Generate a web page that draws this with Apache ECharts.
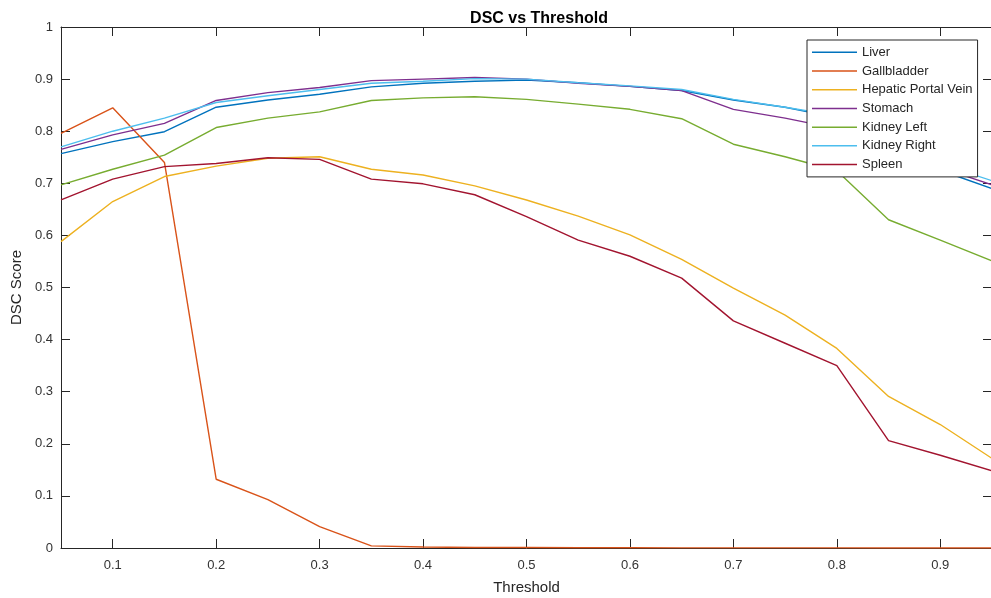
<!DOCTYPE html>
<html>
<head>
<meta charset="utf-8">
<script src="https://cdn.jsdelivr.net/npm/echarts@6/dist/echarts.min.js"></script>
<style>
html,body{margin:0;padding:0;background:#fff;}
#chart{width:991px;height:598px;}
</style>
</head>
<body>
<div id="chart"></div>
<script>
const thresholds = [0.05,0.1,0.15,0.2,0.25,0.3,0.35,0.4,0.45,0.5,0.55,0.6,0.65,0.7,0.75,0.8,0.85,0.9,0.95];
const xTicks = [0.1,0.2,0.3,0.4,0.5,0.6,0.7,0.8,0.9];
const liver = [0.757,0.780,0.799,0.846,0.860,0.871,0.885,0.892,0.896,0.898,0.893,0.886,0.878,0.860,0.846,0.826,0.790,0.725,0.690];
const gallbladder = [0.796,0.845,0.740,0.132,0.093,0.041,0.004,0.002,0.001,0.001,0.0005,0.0005,0.0003,0.0003,0.0002,0.0002,0.0001,0.0001,0.0001];
const hepaticPortalVein = [0.588,0.665,0.713,0.733,0.748,0.751,0.727,0.716,0.695,0.668,0.637,0.601,0.554,0.499,0.447,0.383,0.291,0.237,0.172];
const stomach = [0.765,0.793,0.815,0.859,0.874,0.884,0.897,0.900,0.903,0.900,0.892,0.886,0.878,0.842,0.825,0.805,0.775,0.730,0.697];
const kidneyLeft = [0.697,0.727,0.754,0.807,0.825,0.837,0.859,0.864,0.866,0.861,0.852,0.842,0.824,0.775,0.751,0.724,0.630,0.591,0.551];
const kidneyRight = [0.770,0.800,0.825,0.855,0.868,0.880,0.892,0.896,0.901,0.900,0.893,0.887,0.880,0.861,0.846,0.830,0.795,0.737,0.705];
const spleen = [0.668,0.708,0.732,0.738,0.749,0.746,0.708,0.699,0.678,0.636,0.591,0.560,0.518,0.436,0.393,0.350,0.206,0.178,0.148];

const seriesDefs = [
  ['Liver', liver, '#0072BD'],
  ['Gallbladder', gallbladder, '#D95319'],
  ['Hepatic Portal Vein', hepaticPortalVein, '#EDB120'],
  ['Stomach', stomach, '#7E2F8E'],
  ['Kidney Left', kidneyLeft, '#77AC30'],
  ['Kidney Right', kidneyRight, '#4DBEEE'],
  ['Spleen', spleen, '#A2142F']
];

const font = "'Liberation Sans', Arial, Helvetica, sans-serif";
const axisColor = '#262626';

const chart = echarts.init(document.getElementById('chart'), null, {renderer:'canvas'});

function xAxisDef(pos, showLabel){
  return {
    type:'value', position:pos, min:0.05, max:0.95,
    name: showLabel ? 'Threshold' : '',
    nameLocation:'middle', nameGap:32,
    nameTextStyle:{fontFamily:font, fontSize:15, color:axisColor},
    axisLine:{show:true, onZero:false, lineStyle:{color:axisColor, width:1}},
    axisTick:{show:true, inside:true, length:9, customValues:xTicks, lineStyle:{color:axisColor}},
    axisLabel:{show:showLabel, customValues:xTicks, margin:11, fontFamily:font, fontSize:13, color:'#333',
      formatter:v=>String(v)},
    splitLine:{show:false}
  };
}
function yAxisDef(pos, showLabel){
  return {
    type:'value', position:pos, min:0, max:1, interval:0.1,
    name: showLabel ? 'DSC Score' : '',
    nameLocation:'middle', nameGap:36,
    nameTextStyle:{fontFamily:font, fontSize:15, color:axisColor},
    axisLine:{show:true, onZero:false, lineStyle:{color:axisColor, width:1}},
    axisTick:{show:true, inside:true, length:9, lineStyle:{color:axisColor}},
    axisLabel:{show:showLabel, margin:8, fontFamily:font, fontSize:13, color:'#333',
      formatter:v=>String(Math.round(v*10)/10)},
    splitLine:{show:false}
  };
}

chart.setOption({
  animation:false,
  backgroundColor:'#fff',
  title:{
    text:'DSC vs Threshold', left:534, top:6, textAlign:'center',
    textStyle:{fontFamily:font, fontSize:16, fontWeight:'bold', color:'#000'}
  },
  grid:{left:61, top:27, width:931, height:521, containLabel:false, outerBoundsMode:'none'},
  legend:{
    orient:'vertical', left:807, top:40,
    padding:[3,5,3,5], itemGap:0, itemWidth:45, itemHeight:1.5, itemTextGap:4,
    icon:'rect',
    backgroundColor:'#fff', borderColor:axisColor, borderWidth:1, borderRadius:0,
    textStyle:{fontFamily:font, fontSize:13, color:'#262626', lineHeight:18.7},
    data: seriesDefs.map(d=>d[0])
  },
  xAxis:[xAxisDef('bottom', true), xAxisDef('top', false)],
  yAxis:[yAxisDef('left', true), yAxisDef('right', false)],
  series: seriesDefs.map(([name, vals, color]) => ({
    name, type:'line', xAxisIndex:0, yAxisIndex:0,
    data: thresholds.map((t,i)=>[t, vals[i]]),
    symbol:'none', showSymbol:false, smooth:false,
    lineStyle:{color, width:1.4}, itemStyle:{color},
    clip:true
  }))
});
</script>
</body>
</html>
